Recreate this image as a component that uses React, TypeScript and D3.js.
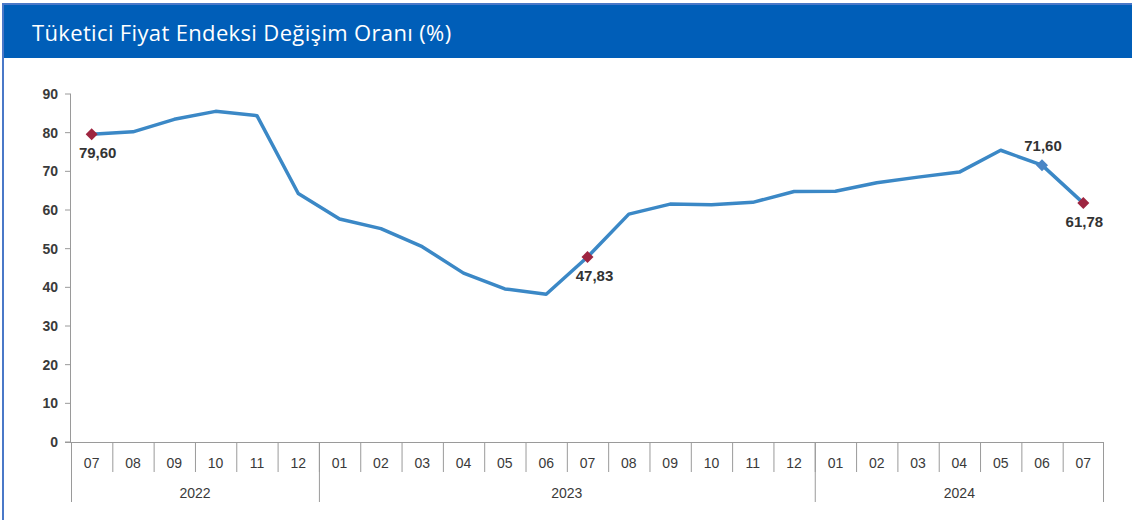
import React from "react";
import * as d3 from "d3";

const months = [
  "07", "08", "09", "10", "11", "12",
  "01", "02", "03", "04", "05", "06", "07", "08", "09", "10", "11", "12",
  "01", "02", "03", "04", "05", "06", "07",
];
const years = ["2022", "2023", "2024"];
const yearSpans = [6, 12, 7];
const cpi = [
  79.6, 80.21, 83.45, 85.51, 84.39, 64.27,
  57.68, 55.18, 50.51, 43.68, 39.59, 38.21, 47.83, 58.94, 61.53, 61.36, 61.98, 64.77,
  64.86, 67.07, 68.5, 69.8, 75.45, 71.6, 61.78,
];
const yTicks = [0, 10, 20, 30, 40, 50, 60, 70, 80, 90];
// index of labelled points, where the label goes, marker colour
const labelled = [
  { i: 0, pos: "below", color: "#9e2540" },
  { i: 12, pos: "below", color: "#9e2540" },
  { i: 23, pos: "above", color: "#4a86c5" },
  { i: 24, pos: "below", color: "#9e2540" },
];

export default function App() {
  const W = 1132;
  const H = 520;
  const left = 71;
  const right = 1104;
  const top = 94;
  const bottom = 442;

  const x = d3
    .scaleBand<number>()
    .domain(d3.range(months.length))
    .range([left, right])
    .padding(0);
  const y = d3.scaleLinear().domain([0, 90]).range([bottom, top]);
  const cx = (i: number) => (x(i) as number) + x.bandwidth() / 2;

  const line = d3
    .line<number>()
    .x((_, i) => cx(i))
    .y((d) => y(d));

  const font = "'Liberation Sans', Arial, sans-serif";
  const axisColor = "#9a9a9a";

  let acc = 0;
  const yearBounds = yearSpans.map((n) => {
    const start = acc;
    acc += n;
    return { start, end: acc };
  });

  return (
    <div style={{ position: "absolute", left: 0, top: 0 }}>
      <svg width={W} height={H} style={{ display: "block" }}>
        <rect x={0} y={0} width={W} height={H} fill="#fff" />
        <rect x={2} y={3} width={W - 2} height={55} fill="#005eb8" />
        <rect x={2} y={3} width={W - 2} height={2} fill="#4a78c8" />
        <rect x={2} y={3} width={2} height={H - 3} fill="#4a78c8" />
        <text
          x={32}
          y={41}
          fill="#fff"
          fontFamily="'Open Sans', 'Noto Sans', sans-serif"
          fontSize={22}
          letterSpacing={0.35}
        >
          Tüketici Fiyat Endeksi Değişim Oranı (%)
        </text>

        {/* y axis */}
        <line x1={left - 0.5} x2={left - 0.5} y1={top} y2={bottom} stroke={axisColor} />
        {yTicks.map((t) => (
          <g key={t}>
            <line x1={left - 6} x2={left} y1={y(t)} y2={y(t)} stroke={axisColor} />
            <text
              x={58}
              y={y(t) + 5}
              textAnchor="end"
              fontFamily={font}
              fontSize={14}
              fontWeight="bold"
              fill="#3a3a3a"
            >
              {t}
            </text>
          </g>
        ))}

        {/* x axis */}
        <line x1={left - 6} x2={right} y1={bottom + 0.5} y2={bottom + 0.5} stroke={axisColor} />
        {months.map((m, i) => (
          <g key={i}>
            <line
              x1={(x(i) as number) + 0.5}
              x2={(x(i) as number) + 0.5}
              y1={bottom}
              y2={bottom + 30}
              stroke={axisColor}
            />
            <text
              x={cx(i)}
              y={bottom + 26}
              textAnchor="middle"
              fontFamily={font}
              fontSize={14}
              fill="#3a3a3a"
            >
              {m}
            </text>
          </g>
        ))}
        <line x1={right - 0.5} x2={right - 0.5} y1={bottom} y2={bottom + 60} stroke={axisColor} />
        {yearBounds.map((b, k) => {
          const x0 = x(b.start) as number;
          const x1 = b.end < months.length ? (x(b.end) as number) : right;
          return (
            <g key={years[k]}>
              <line x1={x0 + 0.5} x2={x0 + 0.5} y1={bottom} y2={bottom + 60} stroke={axisColor} />
              <text
                x={(x0 + x1) / 2}
                y={bottom + 56}
                textAnchor="middle"
                fontFamily={font}
                fontSize={14}
                fill="#3a3a3a"
              >
                {years[k]}
              </text>
            </g>
          );
        })}

        {/* series */}
        <path
          d={line(cpi) || ""}
          fill="none"
          stroke="#3b88c6"
          strokeWidth={3.5}
          strokeLinejoin="round"
        />
        {labelled.map((p) => {
          const px = cx(p.i);
          const py = y(cpi[p.i]);
          const s = 6;
          const ty = p.pos === "below" ? py + 24 : py - 14;
          const tx = p.i === 0 ? px + 6 : p.i === 12 ? px + 7 : px + 1;
          return (
            <g key={p.i}>
              <path
                d={`M${px},${py - s}L${px + s},${py}L${px},${py + s}L${px - s},${py}Z`}
                fill={p.color}
              />
              <text
                x={tx}
                y={ty}
                textAnchor="middle"
                fontFamily={font}
                fontSize={15}
                fontWeight="bold"
                fill="#333"
              >
                {cpi[p.i].toFixed(2).replace(".", ",")}
              </text>
            </g>
          );
        })}
      </svg>
    </div>
  );
}
